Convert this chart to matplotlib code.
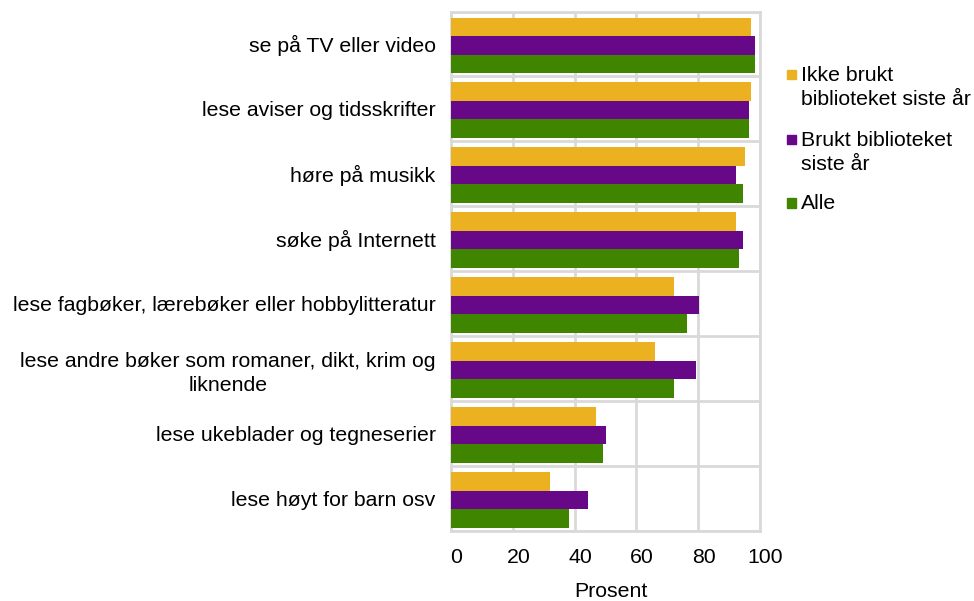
import matplotlib
matplotlib.use("Agg")
import matplotlib.pyplot as plt
from matplotlib.patches import Rectangle
import matplotlib.transforms as mtransforms
import numpy as np

plt.rcParams['font.family'] = ['Liberation Sans', 'DejaVu Sans']

categories = [
    "se på TV eller video",
    "lese aviser og tidsskrifter",
    "høre på musikk",
    "søke på Internett",
    "lese fagbøker, lærebøker eller hobbylitteratur",
    "lese andre bøker som romaner, dikt, krim og\nliknende",
    "lese ukeblader og tegneserier",
    "lese høyt for barn osv",
]
series_names = ["Ikke brukt\nbiblioteket siste år", "Brukt biblioteket\nsiste år", "Alle"]
ikke_brukt = [97.1, 97.1, 95.2, 92.2, 72.2, 66.1, 47.0, 32.0]
brukt = [98.4, 96.4, 92.3, 94.5, 80.3, 79.3, 50.2, 44.3]
alle = [98.4, 96.4, 94.5, 93.2, 76.4, 72.3, 49.2, 38.2]
x_ticks = [0, 20, 40, 60, 80, 100]

colors = ["#EBB121", "#660887", "#3F8500"]
grid_c = "#D9D9D9"
fs = 15.3
W, H = 974, 601

fig = plt.figure(figsize=(W/100, H/100), dpi=100)
ax = fig.add_axes([451/W, 1-531/H, (760-451)/W, (531-11.5)/H])

y = np.arange(len(categories))
h = 0.285
for i, vals in enumerate([ikke_brukt, brukt, alle]):
    ax.barh(y + (i - 1) * h + 0.02, vals, height=h, color=colors[i], zorder=3)

ax.set_xlim(0, 100)
ax.set_ylim(len(categories) - 0.5, -0.5)
ax.set_xticks(x_ticks)
ax.set_xticklabels([])
# x tick labels, shifted slightly right as in the reference
blend = mtransforms.blended_transform_factory(ax.transData, ax.transAxes)
offset = mtransforms.ScaledTranslation(5.5/100, -16.7/100, fig.dpi_scale_trans)
for t in x_ticks:
    ax.text(t, 0, str(t), transform=blend + offset, ha='center', va='top',
            fontsize=fs, clip_on=False)
ax.set_yticks(y)
ax.set_yticklabels(categories, fontsize=fs, multialignment='center', linespacing=1.35)
ax.set_yticks(np.arange(len(categories) + 1) - 0.5, minor=True)
ax.tick_params(axis='both', which='both', length=0)
ax.tick_params(axis='y', pad=11)
ax.grid(axis='x', which='major', color=grid_c, linewidth=2, zorder=0)
ax.grid(axis='y', which='minor', color=grid_c, linewidth=2, zorder=0)
for s in ax.spines.values():
    s.set_color(grid_c)
    s.set_linewidth(2)
ax.text(0.5, 0, "Prosent", transform=ax.transAxes + mtransforms.ScaledTranslation(
    5.5/100, -51/100, fig.dpi_scale_trans), ha='center', va='top', fontsize=fs)

# legend (manual, squares aligned to the first text line as in the reference)
first_baselines = [80.7, 145.7, 209.3]
line_step = 24.3
for name, c, b in zip(series_names, colors, first_baselines):
    nlines = name.count("\n") + 1
    fig.text(801/W, 1 - (b + line_step * (nlines - 1))/H, name, fontsize=fs,
             va='baseline', ha='left', linespacing=1.35)
    fig.patches.append(Rectangle((786.5/W, 1 - (b - 1.5)/H), 9.5/W, 9.5/H,
                                 transform=fig.transFigure, color=c, figure=fig))

fig.savefig("out.png", dpi=100)
